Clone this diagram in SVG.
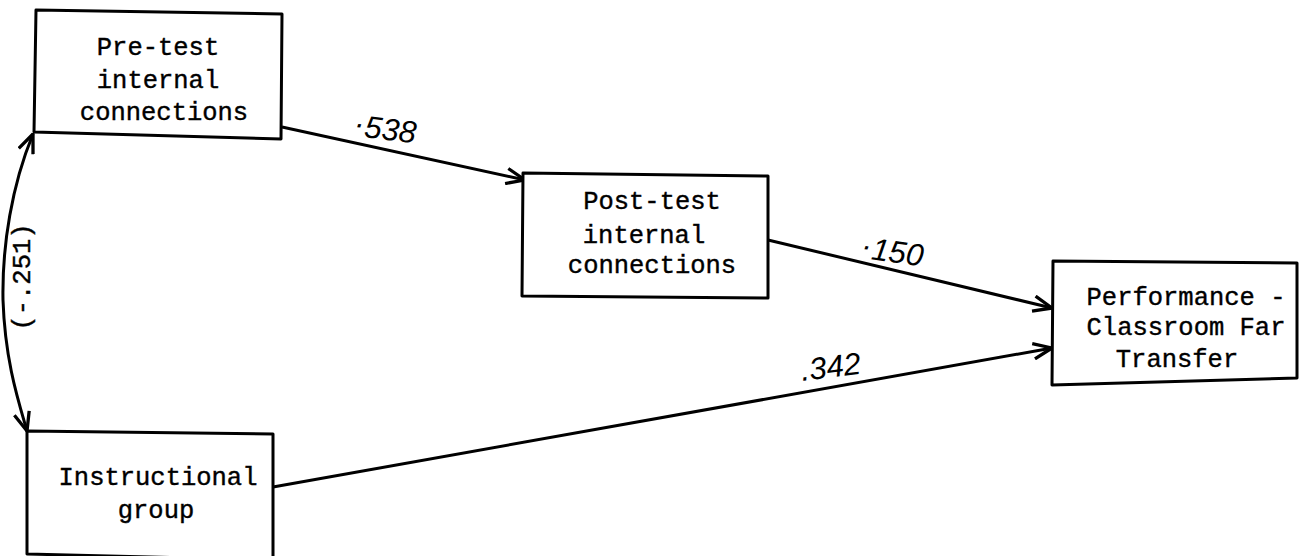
<svg xmlns="http://www.w3.org/2000/svg" width="1303" height="556" viewBox="0 0 1303 556">
<style>
.box{fill:#fff;stroke:#000;stroke-width:3;stroke-linejoin:round}
.t{font-family:"Liberation Mono","Courier New",monospace;font-size:25.5px;fill:#000;stroke:#000;stroke-width:0.4;text-anchor:middle}
.lbl{font-family:"Liberation Sans",Arial,sans-serif;font-style:italic;font-size:31px;fill:#000}
.edge{fill:none;stroke:#000;stroke-width:3}
</style>
<defs>
<marker id="ah" viewBox="0 0 20 16" refX="19" refY="8" markerWidth="22" markerHeight="18" markerUnits="userSpaceOnUse" orient="auto-start-reverse">
<path d="M2,1 L19,8 L2,15" fill="none" stroke="#000" stroke-width="3" stroke-linejoin="round"/>
</marker>
</defs>
<rect width="1303" height="556" fill="#fff"/>
<g id="connectors">
<path class="edge" d="M282,127 L525,180" marker-end="url(#ah)"/>
<path class="edge" d="M768,240 L1052,308" marker-end="url(#ah)"/>
<path class="edge" d="M273,487 L1052,348" marker-end="url(#ah)"/>
<path class="edge" d="M33,134 C12,185 2,245 3,300 C5,360 18,400 27,431" marker-start="url(#ah)" marker-end="url(#ah)"/>
<text class="lbl" transform="translate(355,136) rotate(7)"><tspan dy="-9">.</tspan><tspan dy="9">538</tspan></text>
<text class="lbl" transform="translate(862,258) rotate(8)"><tspan dy="-9">.</tspan><tspan dy="9">150</tspan></text>
<text class="lbl" transform="translate(802,381) rotate(-7)">.342</text>
<text class="t" font-size="24" transform="translate(30,277) rotate(-90)">(-.251)</text>
</g>
<g id="pretest">
<polygon class="box" points="36,10 282,14 281,139 34,132"/>
<text class="t" x="158" y="55">Pre-test</text>
<text class="t" x="158" y="88">internal</text>
<text class="t" x="164" y="120">connections</text>
</g>
<g id="posttest">
<polygon class="box" points="523,173 768,176 768,298 522,296"/>
<text class="t" x="652" y="209">Post-test</text>
<text class="t" x="644" y="243">internal</text>
<text class="t" x="652" y="273">connections</text>
</g>
<g id="performance">
<polygon class="box" points="1053,261 1297,263 1297,378 1052,385"/>
<text class="t" x="1186" y="305">Performance -</text>
<text class="t" x="1186" y="335">Classroom Far</text>
<text class="t" x="1177" y="367">Transfer</text>
</g>
<g id="instructional">
<polygon class="box" points="27,431 273,434 273,560 27,554"/>
<text class="t" x="158" y="485">Instructional</text>
<text class="t" x="156" y="518">group</text>
</g>
</svg>
